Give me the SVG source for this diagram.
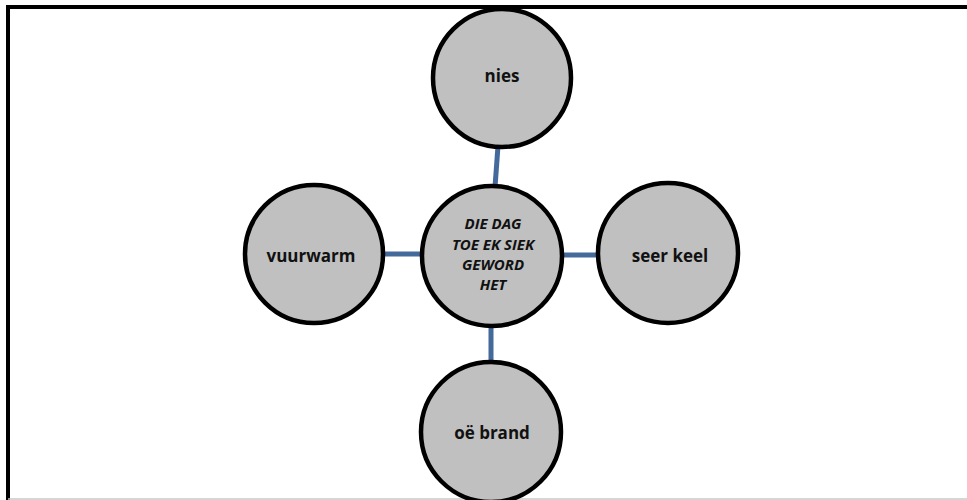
<svg xmlns="http://www.w3.org/2000/svg" width="967" height="500" viewBox="0 0 967 500">
<style>
.node{fill:#c0c0c0;stroke:#000;stroke-width:4.5}
.lbl{font-family:"Open Sans","Liberation Sans",sans-serif;font-weight:bold;font-size:17px;fill:#111;text-anchor:middle;dominant-baseline:central}
.ctr{font-family:"Open Sans","Liberation Sans",sans-serif;font-weight:bold;font-style:italic;font-size:15px;fill:#111;text-anchor:middle;dominant-baseline:central}
.conn{stroke:#44699b;stroke-width:5;fill:none}
</style>
<rect x="0" y="0" width="967" height="500" fill="#fff"/>
<line x1="8" y1="7" x2="967" y2="7" stroke="#000" stroke-width="4"/>
<line x1="8" y1="5" x2="8" y2="500" stroke="#000" stroke-width="4"/>
<line x1="8" y1="499" x2="967" y2="499" stroke="#c8c8c8" stroke-width="1.5"/>
<g id="connectors">
<line class="conn" x1="498" y1="146" x2="495" y2="187"/>
<line class="conn" x1="382" y1="254" x2="424" y2="254"/>
<line class="conn" x1="560" y1="255" x2="600" y2="255"/>
<line class="conn" x1="491" y1="325" x2="491" y2="364"/>
</g>
<g id="nies">
<circle class="node" cx="502" cy="78" r="69"/>
<text class="lbl" x="502" y="75">nies</text>
</g>
<g id="vuurwarm">
<circle class="node" cx="314" cy="254" r="69"/>
<text class="lbl" x="311" y="255">vuurwarm</text>
</g>
<g id="seerkeel">
<circle class="node" cx="668" cy="253" r="70"/>
<text class="lbl" x="670" y="255">seer keel</text>
</g>
<g id="oebrand">
<circle class="node" cx="491" cy="432" r="70"/>
<text class="lbl" x="492" y="432">oë brand</text>
</g>
<g id="center">
<circle class="node" cx="492" cy="256" r="70"/>
<text class="ctr" x="493" y="223">DIE DAG</text>
<text class="ctr" x="493" y="244">TOE EK SIEK</text>
<text class="ctr" x="493" y="264">GEWORD</text>
<text class="ctr" x="493" y="284">HET</text>
</g>
</svg>
